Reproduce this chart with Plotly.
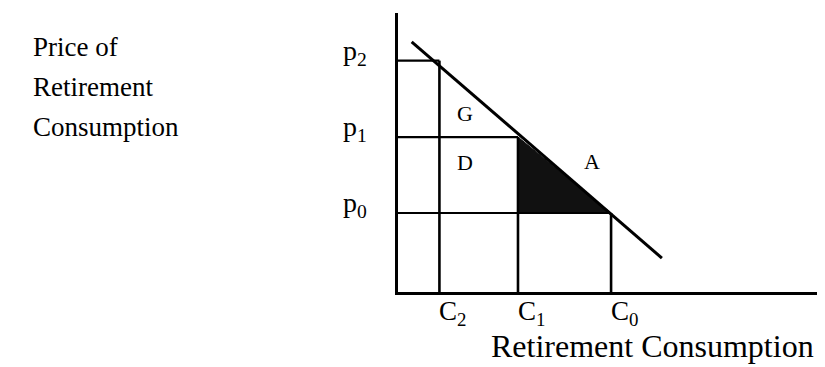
import plotly.graph_objects as go

# quantities and prices (chart units)
c_names = ["C<sub>2</sub>", "C<sub>1</sub>", "C<sub>0</sub>"]
c_vals = [0.97, 2.81, 4.99]
p_names = ["p<sub>2</sub>", "p<sub>1</sub>", "p<sub>0</sub>"]
p_vals = [5.39, 3.61, 1.84]

# demand line end points
demand_x = [0.32, 6.18]
demand_y = [5.83, 0.79]

# area labels
area_text = ["G", "D", "A"]
area_x = [1.57, 1.57, 4.54]
area_y = [4.17, 3.01, 3.03]

XMAX, YMAX = 10, 6.5
serif = "Liberation Serif"
fig = go.Figure()

# shaded triangle A (between p1 and p0)
fig.add_trace(go.Scatter(
    x=[c_vals[1], c_vals[1], c_vals[2], c_vals[1]],
    y=[p_vals[1], p_vals[2], p_vals[2], p_vals[1]],
    fill="toself", fillcolor="#111111", mode="lines",
    line=dict(color="#111111", width=1), hoverinfo="skip"))

# price levels and quantity drops
for c, p in zip(c_vals, p_vals):
    fig.add_trace(go.Scatter(x=[0, c], y=[p, p], mode="lines",
                             line=dict(color="black", width=2.2)))
    fig.add_trace(go.Scatter(x=[c, c], y=[0, p], mode="lines",
                             line=dict(color="black", width=2.6)))

fig.add_trace(go.Scatter(x=demand_x, y=demand_y, mode="lines",
                         line=dict(color="black", width=3)))

for t, x, y in zip(area_text, area_x, area_y):
    fig.add_annotation(x=x, y=y, text=t, showarrow=False,
                       font=dict(family=serif, size=22, color="black"))

# labels outside the axes go in paper coords (anchors set explicitly)
for t, p in zip(p_names, p_vals):
    fig.add_annotation(xref="paper", yref="paper", x=-1.01 / XMAX, y=(p + 0.19) / YMAX,
                       text=t, showarrow=False, xanchor="center", yanchor="middle",
                       font=dict(family=serif, size=28, color="black"))

for t, c in zip(c_names, c_vals):
    fig.add_annotation(xref="paper", yref="paper", x=(c - 0.05) / XMAX, y=-0.5 / YMAX,
                       text=t, showarrow=False, xanchor="left", yanchor="middle",
                       font=dict(family=serif, size=27, color="black"))

fig.add_annotation(xref="paper", yref="paper", x=0.212, y=-1.25 / YMAX,
                   text="Retirement Consumption", showarrow=False,
                   xanchor="left", yanchor="middle",
                   font=dict(family=serif, size=32, color="black"))

for i, line in enumerate(["Price of", "Retirement", "Consumption"]):
    fig.add_annotation(xref="paper", yref="paper", x=-0.86, y=0.878 - i * 0.1435,
                       text=line, showarrow=False, xanchor="left", yanchor="middle",
                       font=dict(family=serif, size=27, color="black"))

# page body has an 8px margin, so the figure is 8px smaller each way
fig.update_layout(
    width=817, height=359,
    margin=dict(l=390, r=0, t=5, b=75),
    paper_bgcolor="white", plot_bgcolor="white",
    showlegend=False,
    xaxis=dict(range=[0, XMAX], showgrid=False, zeroline=False, showticklabels=False,
               showline=True, linecolor="black", linewidth=2.5, fixedrange=True),
    yaxis=dict(range=[0, YMAX], showgrid=False, zeroline=False, showticklabels=False,
               showline=True, linecolor="black", linewidth=2.8, fixedrange=True),
)

fig.write_html("out.html")
